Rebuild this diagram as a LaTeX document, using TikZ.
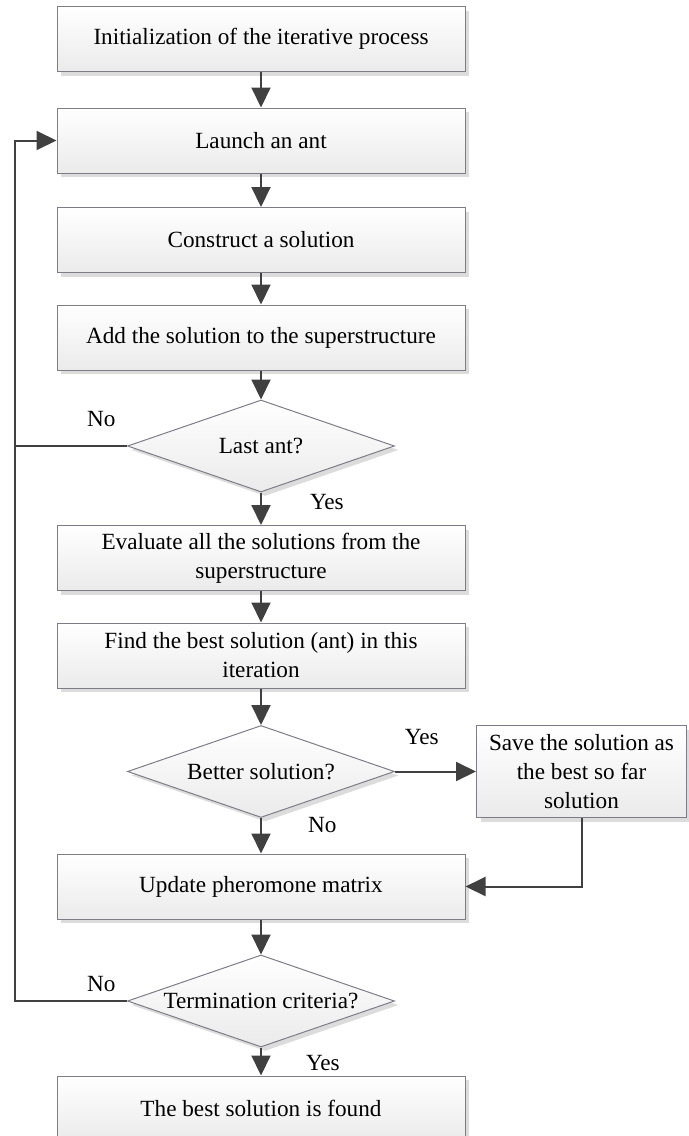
\documentclass[tikz,border=0pt]{standalone}
\usepackage{fontspec}
\setmainfont{Liberation Serif}
\usetikzlibrary{shapes.geometric,arrows.meta,positioning,shadows}
\definecolor{flowline}{RGB}{64,64,64}
\definecolor{flowedge}{RGB}{125,125,138}

\begin{document}
\begin{tikzpicture}[
  proc/.style={rectangle, draw=flowedge, line width=0.5pt, top color=white, bottom color=gray!16,
    drop shadow={shadow xshift=2pt, shadow yshift=-2pt, fill=gray!60, opacity=0.45},
    minimum width=204pt, minimum height=32.5pt, align=center, inner sep=2pt,
    font=\fontsize{11.6}{14.5}\selectfont},
  test/.style={diamond, aspect=2.9, draw=flowedge, line width=0.5pt, top color=white, bottom color=gray!16,
    drop shadow={shadow xshift=2pt, shadow yshift=-2pt, fill=gray!60, opacity=0.45},
    minimum width=133.5pt, minimum height=46pt, inner sep=0pt, align=center,
    font=\fontsize{11.6}{14.5}\selectfont},
  lbl/.style={inner sep=0pt, text=black, font=\fontsize{11.6}{14.5}\selectfont},
  arr/.style={-{Triangle[length=10pt, width=9.5pt]}, flowline, line width=1pt},
  line/.style={flowline, line width=1pt}]
\useasboundingbox (0,0) rectangle (344.5pt,-568pt);
\coordinate (lx) at (7.5pt,0);
\node[proc] (init) at (130.5pt,-19.5pt) {Initialization of the iterative process};
\node[proc, below=17.75pt of init] (launch) {Launch an ant};
\node[proc, below=16.75pt of launch] (construct) {Construct a solution};
\node[proc, below=15.75pt of construct] (add) {Add the solution to the superstructure};
\node[test, below=14.5pt of add] (last) {Last ant?};
\node[proc, below=16.25pt of last] (evaluate) {Evaluate all the solutions from the\\superstructure};
\node[proc, below=15.75pt of evaluate] (find) {Find the best solution (ant) in this\\iteration};
\node[test, below=18.25pt of find] (better) {Better solution?};
\node[proc, right=40.5pt of better, minimum width=105pt, minimum height=46pt] (save) {Save the solution as\\the best so far\\solution};
\node[proc, below=17.75pt of better] (update) {Update pheromone matrix};
\node[test, below=17.5pt of update] (term) {Termination criteria?};
\node[proc, below=14pt of term] (found) {The best solution is found};
% main column
\draw[arr] (init) -- (launch);
\draw[arr] (launch) -- (construct);
\draw[arr] (construct) -- (add);
\draw[arr] (add) -- (last);
\draw[arr] (last) -- node[lbl, pos=0.3, right=24pt] {Yes} (evaluate);
\draw[arr] (evaluate) -- (find);
\draw[arr] (find) -- (better);
\draw[arr] (better) -- node[lbl, pos=0.2, right=23pt] {No} (update);
\draw[arr] (update) -- (term);
\draw[arr] (term) -- node[lbl, pos=0.54, right=22pt] {Yes} (found);
% side branch
\draw[arr] (better) -- node[lbl, pos=0.33, above=13pt] {Yes} (save);
\draw[arr] (save.south) |- (update.east);
% loops back
\draw[arr] (last.west) -- node[lbl, pos=0.23, above=9pt] {No} (last.west -| lx) |- (launch.west);
\draw[line] (term.west) -- node[lbl, pos=0.23, above=4pt] {No} (term.west -| lx) -- (last.west -| lx);
\end{tikzpicture}
\end{document}
